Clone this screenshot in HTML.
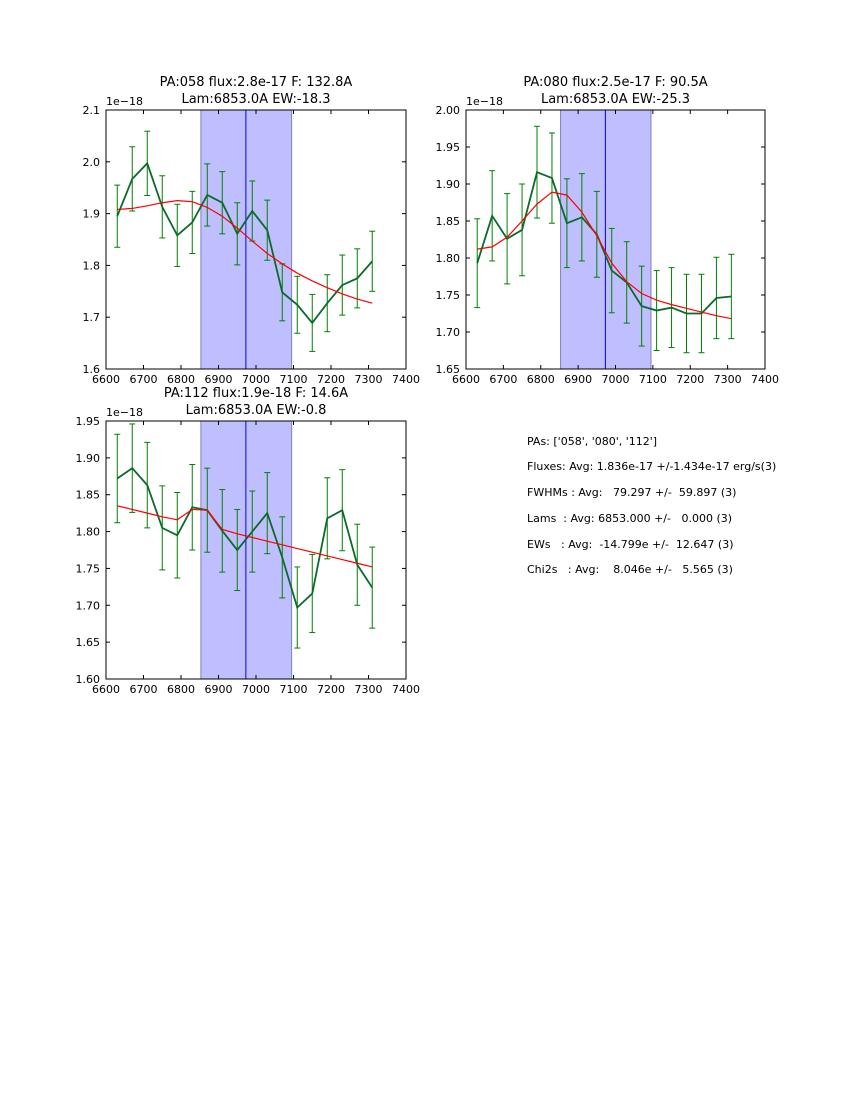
<!DOCTYPE html>
<html><head><meta charset="utf-8">
<style>
body{margin:0;background:#fff;}
svg{display:block;font-family:"DejaVu Sans","Liberation Sans",sans-serif;}
pre{margin:0}
</style></head>
<body>
<svg id="fig" width="850" height="1100" viewBox="0 0 850 1100" xmlns="http://www.w3.org/2000/svg">
<rect width="850" height="1100" fill="#fff"/>
<g font-size="11" fill="#000">
<text x="527" y="445" xml:space="preserve">PAs: ['058', '080', '112']</text>
<text x="527" y="470" xml:space="preserve">Fluxes: Avg: 1.836e-17 +/-1.434e-17 erg/s(3)</text>
<text x="527" y="496" xml:space="preserve">FWHMs : Avg:   79.297 +/-  59.897 (3)</text>
<text x="527" y="522" xml:space="preserve">Lams  : Avg: 6853.000 +/-   0.000 (3)</text>
<text x="527" y="548" xml:space="preserve">EWs   : Avg:  -14.799e +/-  12.647 (3)</text>
<text x="527" y="573" xml:space="preserve">Chi2s   : Avg:    8.046e +/-   5.565 (3)</text>
</g>
</svg>
<script>
const wavelengths=[6630,6670,6710,6750,6790,6830,6870,6910,6950,6990,7030,7070,7110,7150,7190,7230,7270,7310];
const xTicks=[6600,6700,6800,6900,7000,7100,7200,7300,7400];
const spanStart=6853, spanEnd=7095, lineCenter=6973;

const flux058=[1.895,1.967,1.997,1.913,1.858,1.883,1.936,1.921,1.861,1.905,1.868,1.748,1.724,1.689,1.727,1.762,1.775,1.808];
const err058=[0.06,0.062,0.062,0.06,0.06,0.06,0.06,0.06,0.06,0.058,0.058,0.055,0.055,0.055,0.055,0.058,0.057,0.058];
const fit058=[1.908,1.910,1.915,1.921,1.925,1.923,1.912,1.895,1.872,1.847,1.823,1.803,1.785,1.770,1.757,1.745,1.735,1.727];
const yTicks058=["1.6","1.7","1.8","1.9","2.0","2.1"];

const flux080=[1.793,1.857,1.826,1.838,1.916,1.908,1.847,1.855,1.832,1.783,1.767,1.735,1.729,1.733,1.725,1.725,1.746,1.748];
const err080=[0.06,0.061,0.061,0.062,0.062,0.061,0.06,0.059,0.058,0.057,0.055,0.054,0.054,0.054,0.053,0.053,0.055,0.057];
const fit080=[1.812,1.815,1.828,1.850,1.873,1.889,1.885,1.862,1.830,1.793,1.768,1.752,1.743,1.737,1.732,1.727,1.722,1.718];
const yTicks080=["1.65","1.70","1.75","1.80","1.85","1.90","1.95","2.00"];

const flux112=[1.872,1.886,1.863,1.805,1.795,1.833,1.829,1.801,1.775,1.800,1.825,1.765,1.697,1.716,1.818,1.829,1.755,1.724];
const err112=[0.06,0.06,0.058,0.057,0.058,0.058,0.057,0.056,0.055,0.055,0.055,0.055,0.055,0.053,0.055,0.055,0.055,0.055];
const fit112=[1.835,1.830,1.825,1.820,1.816,1.830,1.829,1.803,1.797,1.792,1.787,1.782,1.777,1.772,1.767,1.762,1.757,1.752];
const yTicks112=["1.60","1.65","1.70","1.75","1.80","1.85","1.90","1.95"];

const NS="http://www.w3.org/2000/svg";
const svg=document.getElementById('fig');
function mk(tag,attrs,parent){const e=document.createElementNS(NS,tag);for(const k in attrs)e.setAttribute(k,attrs[k]);parent.appendChild(e);return e;}

function panel(id,L,T,W,H,title1,title2,flux,err,fit,yTicks){
  const ymin=parseFloat(yTicks[0]), ymax=parseFloat(yTicks[yTicks.length-1]);
  const xs=v=>L+(v-6600)/800*W;
  const ys=v=>T+H-(v-ymin)/(ymax-ymin)*H;
  const g=mk('g',{},svg);
  
  
  const span=mk('rect',{x:xs(spanStart),y:T,width:xs(spanEnd)-xs(spanStart),height:H,fill:'#bfbfff',stroke:'#8080c0','stroke-width':1},g);
  
  
  const cl=mk('line',{x1:xs(lineCenter),x2:xs(lineCenter),y1:T,y2:T+H,stroke:'#0000ff','stroke-width':1},g);
  
  
  // error bars
  const eg=mk('g',{stroke:'#008000','stroke-width':1},g);
  
  
  wavelengths.forEach((w,i)=>{
    const x=xs(w),y1=ys(flux[i]-err[i]),y2=ys(flux[i]+err[i]);
    mk('line',{x1:x,x2:x,y1:y1,y2:y2},eg);
    mk('line',{x1:x-3,x2:x+3,y1:y1,y2:y1},eg);
    mk('line',{x1:x-3,x2:x+3,y1:y2,y2:y2},eg);
  });
  const dp=mk('polyline',{points:wavelengths.map((w,i)=>xs(w)+','+ys(flux[i])).join(' '),fill:'none',stroke:'#0a6b2a','stroke-width':1.8},g);
  
  
  const fp=mk('polyline',{points:wavelengths.map((w,i)=>xs(w)+','+ys(fit[i])).join(' '),fill:'none',stroke:'#ff0000','stroke-width':1.2},g);
  
  
  const fr=mk('rect',{x:L,y:T,width:W,height:H,fill:'none',stroke:'#000','stroke-width':1},g);
  
  
  const tg=mk('g',{stroke:'#000','stroke-width':1},g);
  
  
  const lg=mk('g',{'font-size':11,fill:'#000'},g);
  
  
  xTicks.forEach(v=>{
    const x=xs(v);
    mk('line',{x1:x,x2:x,y1:T+H,y2:T+H-4},tg);
    mk('line',{x1:x,x2:x,y1:T,y2:T+4},tg);
    const t=mk('text',{x:x,y:T+H+14,'text-anchor':'middle'},lg);t.textContent=v;
  });
  yTicks.forEach(s=>{
    const y=ys(parseFloat(s));
    mk('line',{x1:L,x2:L+4,y1:y,y2:y},tg);
    mk('line',{x1:L+W,x2:L+W-4,y1:y,y2:y},tg);
    const t=mk('text',{x:L-6,y:y+4,'text-anchor':'end'},lg);t.textContent=s;
  });
  const off=mk('text',{x:L,y:T-5,'font-size':11},g);
  off.textContent='1e\u221218';
  
  
  const t1=mk('text',{x:L+W/2,y:T-24,'text-anchor':'middle','font-size':13},g);
  t1.textContent=title1;
  
  
  const t2=mk('text',{x:L+W/2,y:T-7,'text-anchor':'middle','font-size':13},g);
  t2.textContent=title2;
  
  
}
panel('058',106,110,300,259,'PA:058 flux:2.8e-17 F: 132.8A','Lam:6853.0A EW:-18.3',flux058,err058,fit058,yTicks058);
panel('080',466,110,299,259,'PA:080 flux:2.5e-17 F: 90.5A','Lam:6853.0A EW:-25.3',flux080,err080,fit080,yTicks080);
panel('112',106,421,300,258,'PA:112 flux:1.9e-18 F: 14.6A','Lam:6853.0A EW:-0.8',flux112,err112,fit112,yTicks112);
</script>
</body></html>
